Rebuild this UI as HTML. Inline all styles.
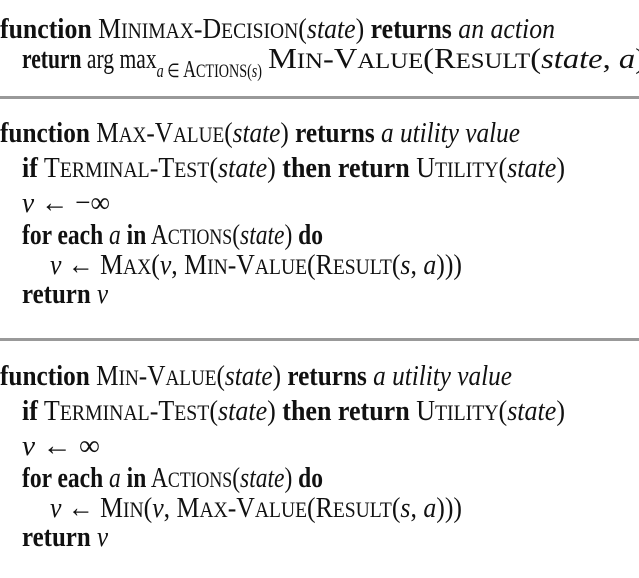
<!DOCTYPE html>
<html><head><meta charset="utf-8"><style>
html,body{margin:0;padding:0;background:#fff;}
svg{display:block}
text{font-family:"Liberation Serif",serif;fill:#111;font-size:29px}
.b{font-weight:bold}
.i{font-style:italic}
.s{font-size:22px}
</style></head><body>
<svg width="639" height="578" viewBox="0 0 639 578">
<text x="0" y="38" textLength="555" lengthAdjust="spacingAndGlyphs"><tspan class="b">function</tspan> M<tspan class="s">INIMAX</tspan>-D<tspan class="s">ECISION</tspan>(<tspan class="i">state</tspan>) <tspan class="b">returns</tspan> <tspan class="i">an action</tspan></text>
<text x="22" y="68" textLength="240" lengthAdjust="spacingAndGlyphs"><tspan class="b">return</tspan> arg max<tspan class="i" dy="9" font-size="19">a</tspan><tspan font-size="19"> ∈ </tspan><tspan font-size="24">A</tspan><tspan font-size="19">CTIONS</tspan><tspan font-size="19">(</tspan><tspan class="i" font-size="19">s</tspan><tspan font-size="19">)</tspan></text>
<text x="268" y="68" textLength="378" lengthAdjust="spacingAndGlyphs">M<tspan class="s">IN</tspan>-V<tspan class="s">ALUE</tspan>(R<tspan class="s">ESULT</tspan>(<tspan class="i">state</tspan>, <tspan class="i">a</tspan>)</text>
<rect x="0" y="96" width="639" height="3" fill="#999"/>

<text x="0" y="142" textLength="520" lengthAdjust="spacingAndGlyphs"><tspan class="b">function</tspan> M<tspan class="s">AX</tspan>-V<tspan class="s">ALUE</tspan>(<tspan class="i">state</tspan>) <tspan class="b">returns</tspan> <tspan class="i">a utility value</tspan></text>
<text x="22" y="177" textLength="543" lengthAdjust="spacingAndGlyphs"><tspan class="b">if</tspan> T<tspan class="s">ERMINAL</tspan>-T<tspan class="s">EST</tspan>(<tspan class="i">state</tspan>) <tspan class="b">then return</tspan> U<tspan class="s">TILITY</tspan>(<tspan class="i">state</tspan>)</text>
<text x="22" y="212" textLength="88" lengthAdjust="spacingAndGlyphs"><tspan class="i">v</tspan> ← −∞</text>
<text x="22" y="244" textLength="301" lengthAdjust="spacingAndGlyphs"><tspan class="b">for each</tspan> <tspan class="i">a</tspan> <tspan class="b">in</tspan> A<tspan class="s">CTIONS</tspan>(<tspan class="i">state</tspan>) <tspan class="b">do</tspan></text>
<text x="50" y="274" textLength="412" lengthAdjust="spacingAndGlyphs"><tspan class="i">v</tspan> ← M<tspan class="s">AX</tspan>(<tspan class="i">v</tspan>, M<tspan class="s">IN</tspan>-V<tspan class="s">ALUE</tspan>(R<tspan class="s">ESULT</tspan>(<tspan class="i">s</tspan>, <tspan class="i">a</tspan>)))</text>
<text x="22" y="303" textLength="86" lengthAdjust="spacingAndGlyphs"><tspan class="b">return</tspan> <tspan class="i">v</tspan></text>
<rect x="0" y="338" width="639" height="3" fill="#999"/>

<text x="0" y="385" textLength="512" lengthAdjust="spacingAndGlyphs"><tspan class="b">function</tspan> M<tspan class="s">IN</tspan>-V<tspan class="s">ALUE</tspan>(<tspan class="i">state</tspan>) <tspan class="b">returns</tspan> <tspan class="i">a utility value</tspan></text>
<text x="22" y="420" textLength="543" lengthAdjust="spacingAndGlyphs"><tspan class="b">if</tspan> T<tspan class="s">ERMINAL</tspan>-T<tspan class="s">EST</tspan>(<tspan class="i">state</tspan>) <tspan class="b">then return</tspan> U<tspan class="s">TILITY</tspan>(<tspan class="i">state</tspan>)</text>
<text x="22" y="455" textLength="78" lengthAdjust="spacingAndGlyphs"><tspan class="i">v</tspan> ← ∞</text>
<text x="22" y="487" textLength="301" lengthAdjust="spacingAndGlyphs"><tspan class="b">for each</tspan> <tspan class="i">a</tspan> <tspan class="b">in</tspan> A<tspan class="s">CTIONS</tspan>(<tspan class="i">state</tspan>) <tspan class="b">do</tspan></text>
<text x="50" y="517" textLength="412" lengthAdjust="spacingAndGlyphs"><tspan class="i">v</tspan> ← M<tspan class="s">IN</tspan>(<tspan class="i">v</tspan>, M<tspan class="s">AX</tspan>-V<tspan class="s">ALUE</tspan>(R<tspan class="s">ESULT</tspan>(<tspan class="i">s</tspan>, <tspan class="i">a</tspan>)))</text>
<text x="22" y="546" textLength="86" lengthAdjust="spacingAndGlyphs"><tspan class="b">return</tspan> <tspan class="i">v</tspan></text>
</svg>
</body></html>
